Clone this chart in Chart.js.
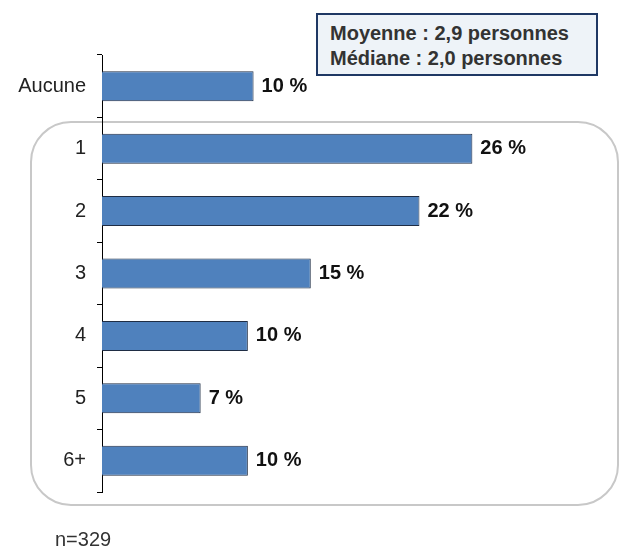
<!DOCTYPE html>
<html lang="fr">
<head>
<meta charset="UTF-8">
<title>Nombre de personnes</title>
<script src="https://cdn.jsdelivr.net/npm/chart.js"></script>
<style>
  body { margin: 0; background: #fff; font-family: "Liberation Sans", Arial, sans-serif; }
  #wrap { position: relative; width: 621px; height: 547px; }
  #stats {
    position: absolute; left: 316px; top: 13px; width: 266px;
    background: #eef3f8; border: 2px solid #1f3864;
    font-weight: bold; font-size: 20px; color: #333; line-height: 25px;
    text-align: left; padding: 6px 0 0 12px; box-sizing: content-box; height: 53px;
  }
  #base { position: absolute; left: 55px; top: 528px; font-size: 20px; color: #333; }
</style>
</head>
<body>
<div id="wrap">
  <canvas id="chart" width="621" height="547"></canvas>
  <div id="stats">Moyenne : 2,9 personnes<br>Médiane : 2,0 personnes</div>
  <div id="base">n=329</div>
</div>
<script>
const categories = ['Aucune', '1', '2', '3', '4', '5', '6+'];
const values = [10.6, 25.9, 22.2, 14.6, 10.2, 6.9, 10.2];
const valueLabels = ['10 %', '26 %', '22 %', '15 %', '10 %', '7 %', '10 %'];

// cadre arrondi gris autour de 1 à 6+
const frame = {
  id: 'frame',
  beforeDraw(chart) {
    const c = chart.ctx;
    c.save();
    c.strokeStyle = '#c8c8c8';
    c.lineWidth = 2;
    c.beginPath();
    c.roundRect(31, 122, 587, 383, 40);
    c.stroke();
    c.restore();
  }
};

// étiquettes de valeur à droite des barres
const barLabels = {
  id: 'barLabels',
  afterDatasetsDraw(chart) {
    const c = chart.ctx;
    c.save();
    c.font = 'bold 20px "Liberation Sans", Arial, sans-serif';
    c.fillStyle = '#111';
    c.textBaseline = 'middle';
    chart.getDatasetMeta(0).data.forEach((bar, i) => {
      c.fillText(valueLabels[i], bar.x + 8, bar.y);
    });
    c.restore();
  }
};

new Chart(document.getElementById('chart'), {
  type: 'bar',
  data: {
    labels: categories,
    datasets: [{
      data: values,
      backgroundColor: '#4f81bd',
      borderColor: '#1f2d44',
      borderWidth: 1,
      barPercentage: 0.48,
      categoryPercentage: 1
    }]
  },
  options: {
    indexAxis: 'y',
    responsive: false,
    animation: false,
    layout: { padding: { top: 55, bottom: 55, left: 0, right: 90 } },
    plugins: { legend: { display: false }, tooltip: { enabled: false } },
    scales: {
      x: { display: false, min: 0, max: 30 },
      y: {
        afterFit(scale) { scale.width = 102; },
        border: { display: true, color: '#000', width: 1 },
        grid: { offset: true, drawOnChartArea: false, drawTicks: true, tickLength: 5, color: '#000' },
        ticks: { padding: 11, color: '#222', font: { size: 20, family: '"Liberation Sans", Arial, sans-serif' } }
      }
    }
  },
  plugins: [frame, barLabels]
});
</script>
</body>
</html>
